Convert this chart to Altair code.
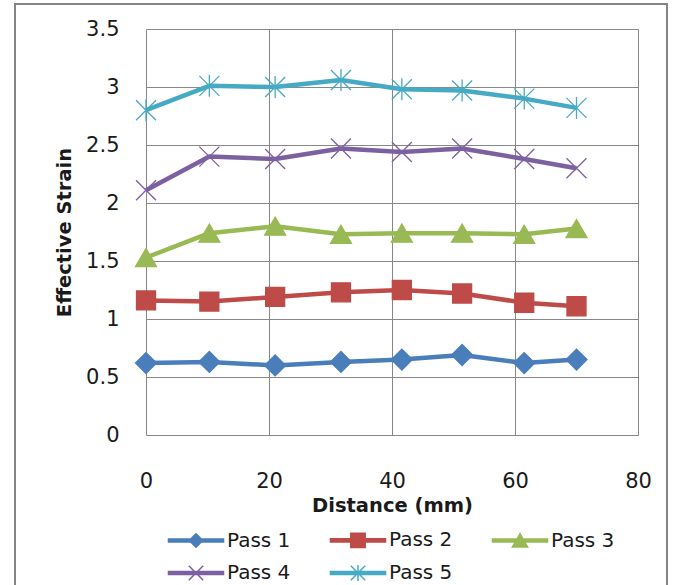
import altair as alt
import pandas as pd

# ---- data ----
distance = [0, 10.3, 21, 31.7, 41.6, 51.4, 61.5, 70]
series = ["Pass 1", "Pass 2", "Pass 3", "Pass 4", "Pass 5"]
pass1 = [0.62, 0.63, 0.60, 0.63, 0.65, 0.69, 0.62, 0.65]
pass2 = [1.16, 1.15, 1.19, 1.23, 1.25, 1.22, 1.14, 1.11]
pass3 = [1.53, 1.74, 1.80, 1.73, 1.74, 1.74, 1.73, 1.78]
pass4 = [2.11, 2.40, 2.38, 2.47, 2.44, 2.47, 2.38, 2.30]
pass5 = [2.80, 3.01, 3.00, 3.06, 2.98, 2.97, 2.90, 2.82]
x_ticks = [0, 20, 40, 60, 80]
y_ticks = [0, 0.5, 1, 1.5, 2, 2.5, 3, 3.5]

colors = ["#4A7EBB", "#BE4B48", "#98B954", "#7D60A0", "#46AAC5"]

values = [pass1, pass2, pass3, pass4, pass5]
rows = []
for name, vals in zip(series, values):
    for d, v in zip(distance, vals):
        rows.append({"series": name, "distance": d, "strain": v})
df = pd.DataFrame(rows)

# marker shapes (plot) and legend symbols (line + marker)
plot_shapes = [
    "M-1.05,0L0,-1.05L1.05,0L0,1.05Z",
    "M-0.95,-0.95H0.95V0.95H-0.95Z",
    "M0,-0.9L1.05,0.9L-1.05,0.9Z",
    "M-1,-1L1,1M-1,1L1,-1",
    "M-1,-1L1,1M-1,1L1,-1M0,-1.1L0,1.1",
]
bar = "M-3.44,-0.2H3.44V0.2H-3.44Z"
legend_shapes = [
    bar + "M-0.85,0L0,-0.85L0.85,0L0,0.85Z",
    bar + "M-0.9,-0.9H0.9V0.9H-0.9Z",
    bar + "M0,-0.85L0.95,0.8L-0.95,0.8Z",
    bar + "M-0.9,-0.9L0.9,0.9M-0.9,0.9L0.9,-0.9",
    bar + "M-0.9,-0.9L0.9,0.9M-0.9,0.9L0.9,-0.9M0,-1L0,1",
]
point_fill = colors[:3] + ["transparent", "transparent"]

FONT = "DejaVu Sans"
TXT = "#1a1a1a"

x_enc = alt.X(
    "distance:Q",
    scale=alt.Scale(domain=[0, 80], nice=False, zero=False),
    axis=alt.Axis(values=x_ticks, title="Distance (mm)", labelPadding=35, titlePadding=5,
                  labelFlush=False),
)
y_enc = alt.Y(
    "strain:Q",
    scale=alt.Scale(domain=[0, 3.5], nice=False),
    axis=alt.Axis(values=y_ticks, format="~g", title="Effective Strain", labelPadding=27, titlePadding=11,
                  labelFlush=False),
)

base = alt.Chart(df)

lines = base.mark_line(strokeWidth=4.5, strokeJoin="round").encode(
    x=x_enc,
    y=y_enc,
    stroke=alt.Stroke("series:N", scale=alt.Scale(domain=series, range=colors), legend=None),
    detail="series:N",
)

points = base.mark_point(size=400, strokeWidth=1.3, opacity=1).encode(
    x="distance:Q",
    y="strain:Q",
    shape=alt.Shape("series:N", scale=alt.Scale(domain=series, range=plot_shapes), legend=None),
    fill=alt.Fill("series:N", scale=alt.Scale(domain=series, range=point_fill), legend=None),
    stroke=alt.Stroke("series:N", scale=alt.Scale(domain=series, range=colors), legend=None),
)

legend_layer = base.mark_point(opacity=0).encode(
    x="distance:Q",
    y="strain:Q",
    shape=alt.Shape("series:N", scale=alt.Scale(domain=series, range=legend_shapes), title=None),
    fill=alt.Fill("series:N", scale=alt.Scale(domain=series, range=colors), title=None),
    stroke=alt.Stroke("series:N", scale=alt.Scale(domain=series, range=colors), title=None),
)

frame = alt.Chart(alt.Data(values=[{"a": 1}])).mark_rect(
    fillOpacity=0, stroke="#858585", strokeWidth=2
).encode(
    x=alt.value(-131), x2=alt.value(521), y=alt.value(-25), y2=alt.value(620)
)

chart = (
    alt.layer(frame, lines, points, legend_layer)
    .resolve_scale(shape="independent", fill="independent", stroke="independent")
    .properties(
        width=492,
        height=406,
        autosize="none",
        padding={"left": 146, "top": 29, "right": 35, "bottom": 150},
        background="white",
    )
    .configure_view(strokeWidth=0)
    .configure_axis(
        labelFont=FONT,
        labelFontSize=21,
        labelColor=TXT,
        titleFont=FONT,
        titleFontSize=19.5,
        titleFontWeight="bold",
        titleColor=TXT,
        grid=True,
        gridColor="#878787",
        gridWidth=1,
        domain=False,
        ticks=False,
        tickSize=0,
    )
    .configure_legend(
        orient="none",
        direction="horizontal",
        legendX=40,
        legendY=501,
        columns=3,
        padding=0,
        symbolSize=256,
        symbolStrokeWidth=1.5,
        symbolOpacity=1,
        labelOffset=21,
        columnPadding=36,
        rowPadding=11,
        labelFont=FONT,
        labelFontSize=20,
        labelColor=TXT,
        gridAlign="all",
        labelLimit=0,
    )
)

chart.save("out.html", embed_options={"renderer": "svg", "actions": False})
